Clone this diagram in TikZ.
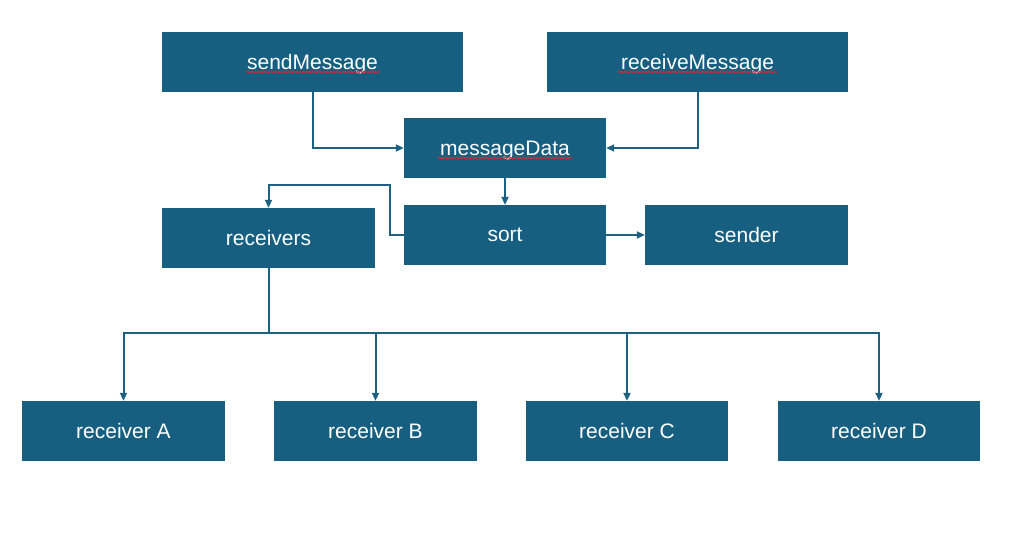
\documentclass[tikz,border=0pt]{standalone}
\usepackage{fontspec}
\setmainfont{Liberation Sans}
\usetikzlibrary{arrows.meta,calc,decorations.pathmorphing}
\definecolor{boxblue}{RGB}{23,95,128}
\definecolor{linkblue}{RGB}{30,96,128}
\definecolor{spellred}{RGB}{220,40,40}
\tikzset{
  box/.style={rectangle, fill=boxblue, draw=none, text=white, minimum height=60pt, inner sep=0pt, text depth=0pt, yshift=0pt, font=\fontsize{21}{25}\selectfont},
  link/.style={draw=linkblue, line width=2pt, -{Triangle[length=8pt,width=7pt]}},
  plain/.style={draw=linkblue, line width=2pt},
  squiggle/.style={draw=spellred, line width=0.8pt, decorate, decoration={snake, amplitude=0.9pt, segment length=3pt}}
}
\begin{document}
\begin{tikzpicture}[x=1pt,y=-1pt]
\useasboundingbox[fill=white] (0,0) rectangle (1031,556);
\node[box, minimum width=301pt] (send) at (312.5,62) {sendMessage};
\node[box, minimum width=301pt] (recv) at (697.5,62) {receiveMessage};
\node[box, minimum width=202pt] (data) at (505,148) {messageData};
\node[box, minimum width=202pt] (sort) at (505,235) {sort};
\node[box, minimum width=203pt] (sender) at (746.5,235) {sender};
\node[box, minimum width=213pt] (rcvs) at (268.5,238) {receivers};
\node[box, minimum width=203pt] (ra) at (123.5,431) {receiver A};
\node[box, minimum width=203pt] (rb) at (375.5,431) {receiver B};
\node[box, minimum width=202pt] (rc) at (627,431) {receiver C};
\node[box, minimum width=202pt] (rd) at (879,431) {receiver D};
% spell-check underlines
\draw[squiggle] ($(send.center)+(-67,10)$) -- ($(send.center)+(68,10)$);
\draw[squiggle] ($(recv.center)+(-80,10)$) -- ($(recv.center)+(80,10)$);
\draw[squiggle] ($(data.center)+(-67,10)$) -- ($(data.center)+(68,10)$);
% connectors
\draw[link] (send.south) |- (data.west);
\draw[link] (recv.south) |- (data.east);
\draw[link] (data.south) -- (sort.north);
\draw[link] (sort.east) -- (sender.west);
\coordinate (k1) at (390,235);
\coordinate (k2) at (390,185);
\draw[link] (sort.west) -- (k1) -- (k2) -| (rcvs.north);
\coordinate (bus) at (268.5,333);
\draw[plain] (rcvs.south) -- (bus);
\draw[link] (bus) -| (ra.north);
\draw[link] (bus) -| (rb.north);
\draw[link] (bus) -| (rc.north);
\draw[link] (bus) -| (rd.north);
\end{tikzpicture}
\end{document}
